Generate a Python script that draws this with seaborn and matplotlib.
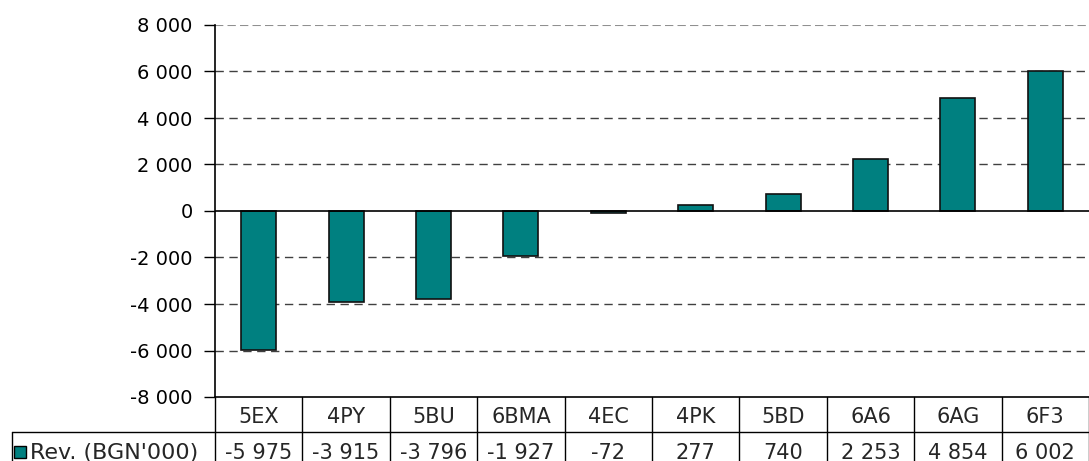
import matplotlib
matplotlib.use("Agg")
import matplotlib.pyplot as plt
from matplotlib.patches import Rectangle
import seaborn as sns
import pandas as pd

categories = ["5EX", "4PY", "5BU", "6BMA", "4EC", "4PK", "5BD", "6A6", "6AG", "6F3"]
revenue = [-5975, -3915, -3796, -1927, -72, 277, 740, 2253, 4854, 6002]
series_name = "Rev. (BGN'000)"
y_ticks = [-8000, -6000, -4000, -2000, 0, 2000, 4000, 6000, 8000]

teal = "#008080"

sns.set_style("white")
plt.rcParams["font.family"] = ["DejaVu Sans"]

df = pd.DataFrame({"cat": categories, "rev": revenue})

W, H = 1089, 461
fig = plt.figure(figsize=(W / 100, H / 100), dpi=100)
ax = fig.add_axes([215 / W, (H - 397) / H, (W - 215) / W, (397 - 25) / H])

def fmt(v):
    return f"{v:,}".replace(",", " ")

# grid lines behind bars
for t in y_ticks[1:-1]:
    if t != 0:
        ax.axhline(t, color="#404040", lw=1, ls=(0, (6, 4)), zorder=0)
ax.axhline(8000, color="#909090", lw=1.5, ls=(0, (4, 2)), zorder=0)

sns.barplot(data=df, x="cat", y="rev", color=teal, width=0.4,
            edgecolor="#111111", linewidth=1.2, saturation=1, ax=ax, zorder=2)

ax.axhline(0, color="black", lw=1.2, zorder=3)
ax.set_xlim(-0.5, len(categories) - 0.5)
ax.set_ylim(-8000, 8000)
ax.set_yticks(y_ticks)
ax.set_yticklabels([fmt(t) for t in y_ticks], fontsize=14)
ax.set_xticks([])
ax.set_xlabel("")
ax.set_ylabel("")
ax.tick_params(axis="y", direction="out", length=8, width=1, pad=8, left=True, colors="black")
for side in ["top", "right"]:
    ax.spines[side].set_visible(False)
ax.spines["left"].set_color("black")
ax.spines["bottom"].set_color("black")
ax.spines["left"].set_linewidth(1.2)
ax.spines["bottom"].set_linewidth(1.2)

# data table below the axes
tr = ax.get_xaxis_transform()
ah = 397 - 25
def ay(py):
    return (397 - py) / ah

for i in range(len(categories) + 1):
    ax.plot([i - 0.5, i - 0.5], [ay(397), ay(470)], color="black", lw=1,
            transform=tr, clip_on=False)
for i, (c, v) in enumerate(zip(categories, revenue)):
    ax.text(i, ay(417), c, transform=tr, ha="center", va="center", fontsize=15)
    ax.text(i, ay(453), fmt(v), transform=tr, ha="center", va="center", fontsize=15)

# legend cell
fig.add_artist(plt.Line2D([12 / W, 1], [(H - 432) / H] * 2, color="black", lw=1,
                          transform=fig.transFigure))
fig.add_artist(plt.Line2D([12 / W, 12 / W], [(H - 432) / H, 0], color="black", lw=1,
                          transform=fig.transFigure))
fig.add_artist(Rectangle((14 / W, (H - 458) / H), 12 / W, 12 / H, facecolor=teal,
                         edgecolor="black", lw=1, transform=fig.transFigure))
fig.text(30 / W, (H - 453) / H, series_name, ha="left", va="center", fontsize=16)

fig.savefig("out.png", dpi=100)
